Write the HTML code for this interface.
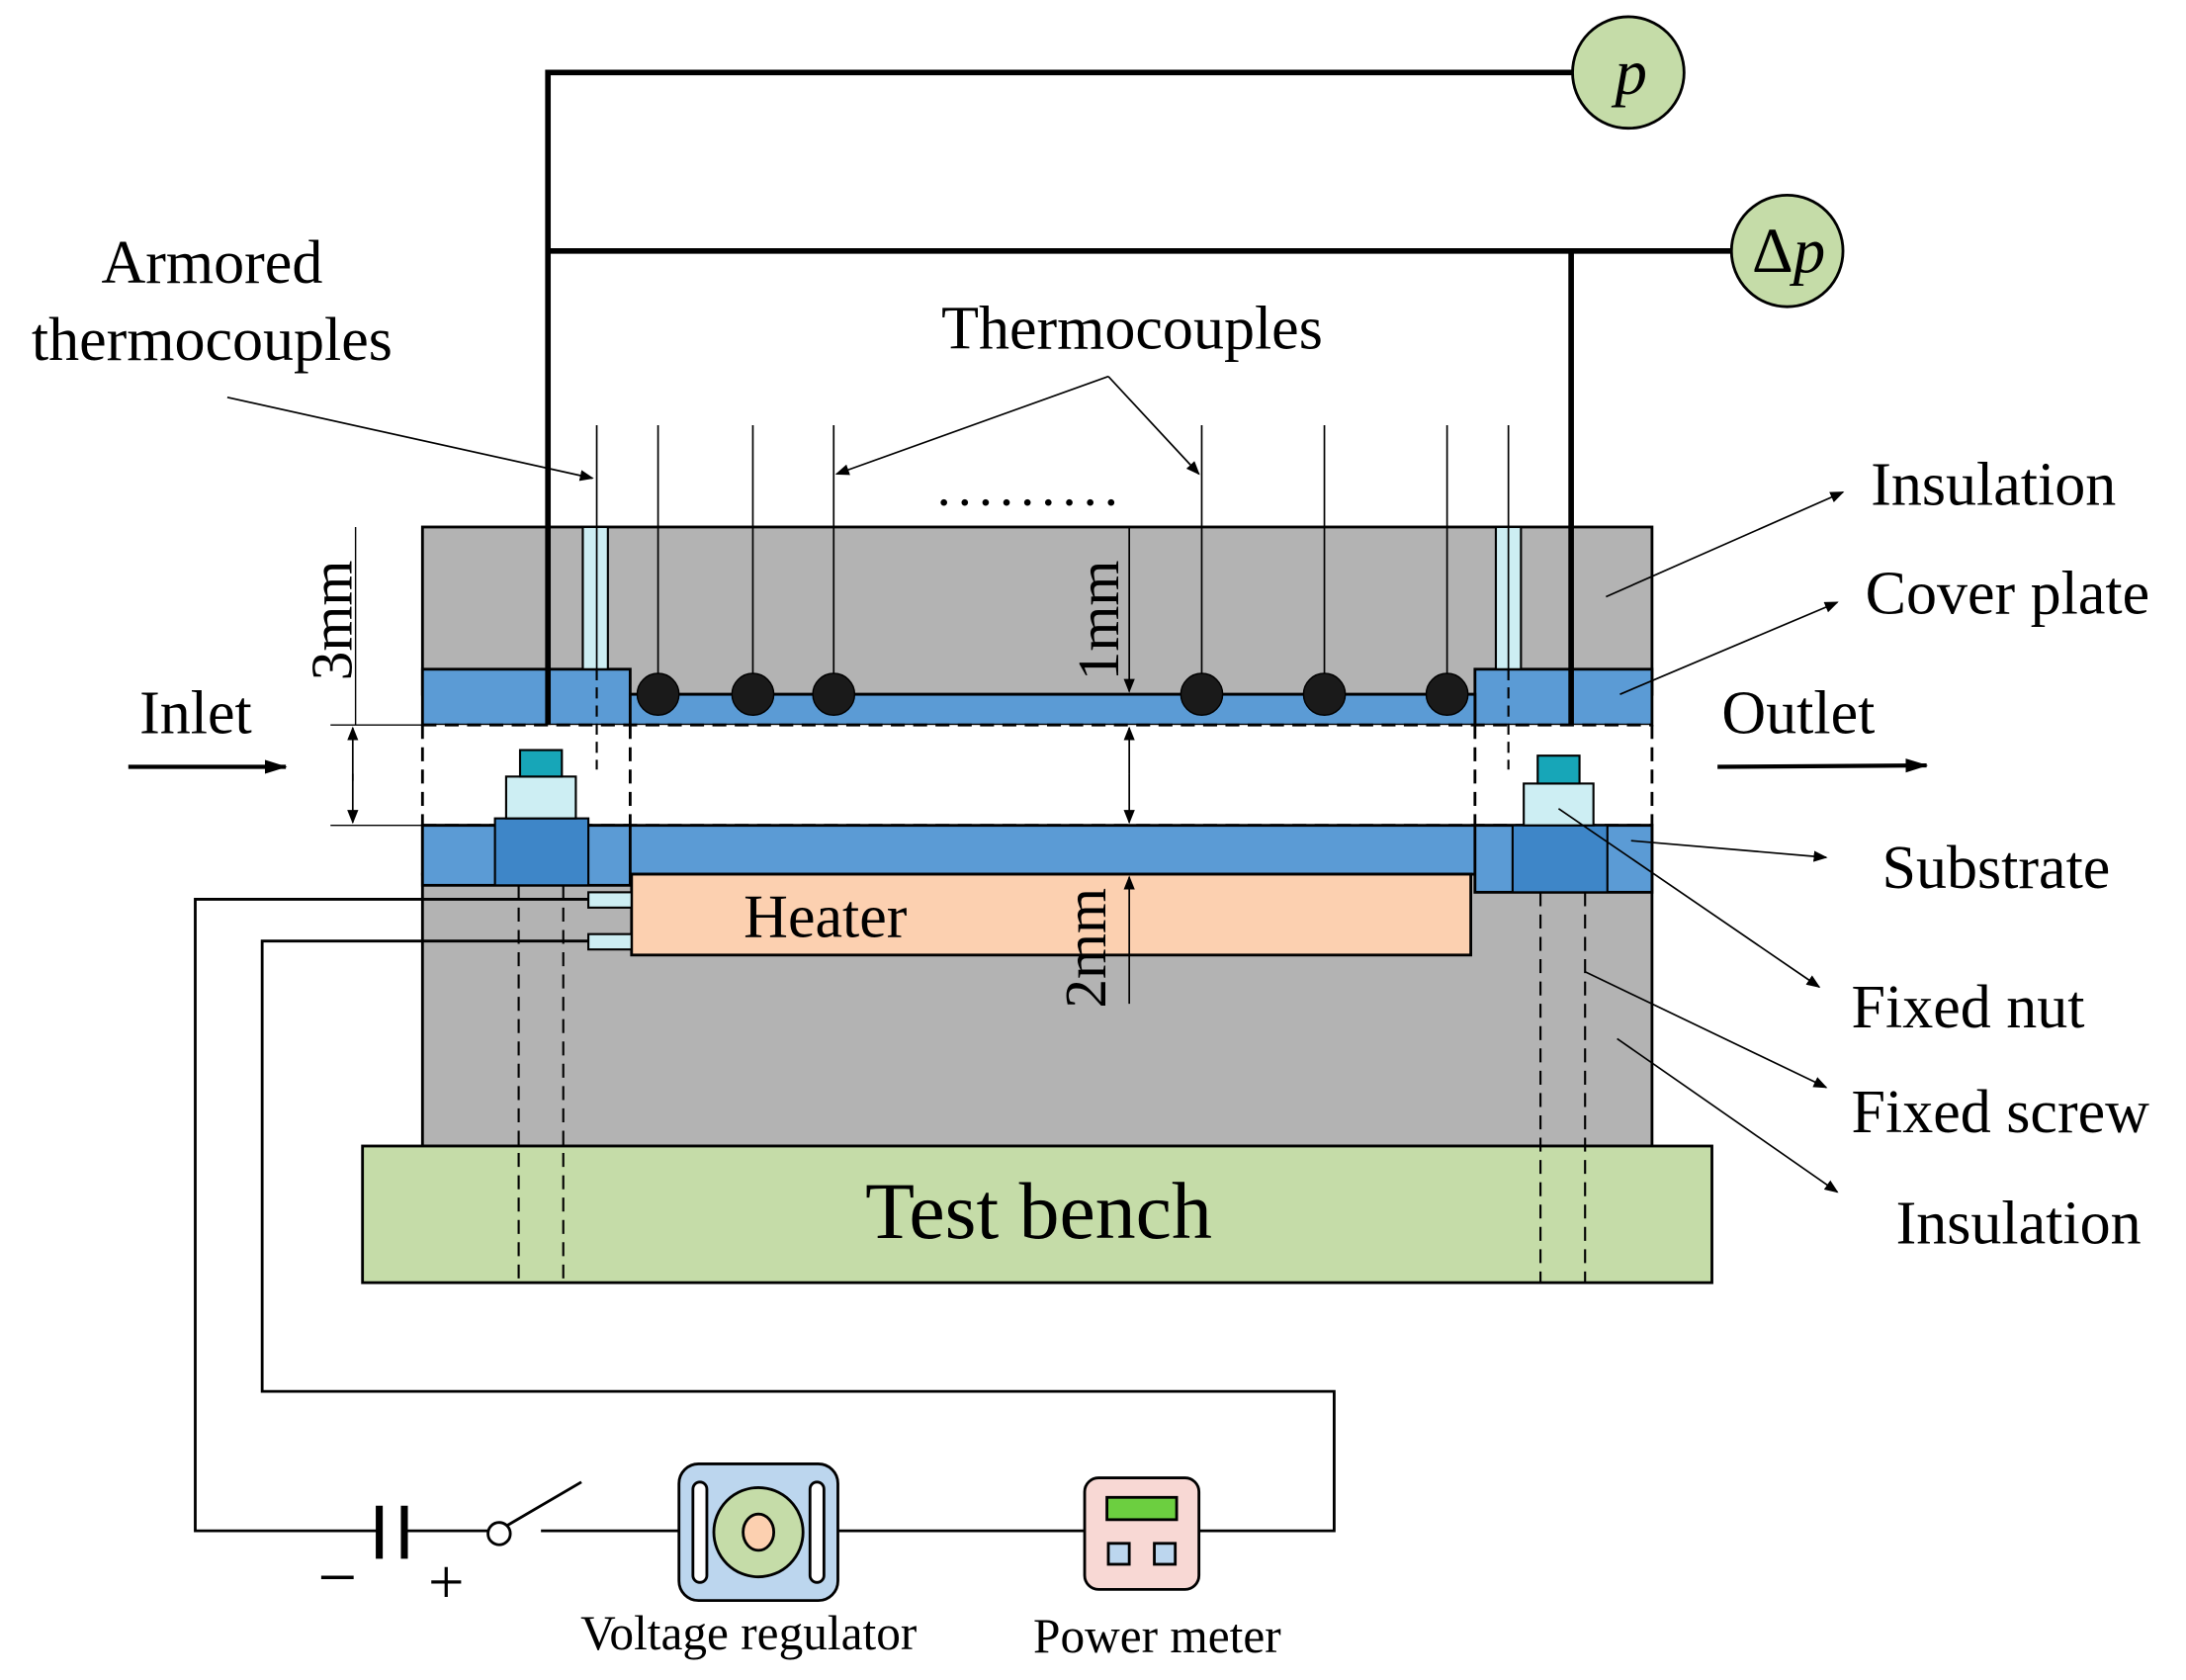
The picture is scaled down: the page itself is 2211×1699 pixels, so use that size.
<!DOCTYPE html>
<html><head><meta charset="utf-8"><style>html,body{margin:0;padding:0;background:#fff}svg{display:block}text{font-family:"Liberation Serif",serif;fill:#000}</style></head><body>
<svg width="2211" height="1699" viewBox="0 0 1568 1205" xmlns="http://www.w3.org/2000/svg">
<defs><marker id="a" markerWidth="10" markerHeight="8" refX="9" refY="4" orient="auto" markerUnits="userSpaceOnUse"><path d="M0,0 L10,4 L0,8 Z" fill="#000"/></marker>
<marker id="b" markerWidth="16" markerHeight="10" refX="15" refY="5" orient="auto" markerUnits="userSpaceOnUse"><path d="M0,0 L16,5 L0,10 Z" fill="#000"/></marker></defs>
<rect x="303" y="378" width="882" height="120" fill="#b3b3b3" stroke="#000" stroke-width="2"/>
<rect x="303" y="627" width="882" height="195" fill="#b3b3b3" stroke="#000" stroke-width="2"/>
<rect x="303" y="480" width="149" height="40" fill="#5b9bd5" stroke="#000" stroke-width="2"/>
<rect x="1058" y="480" width="127" height="40" fill="#5b9bd5" stroke="#000" stroke-width="2"/>
<rect x="452" y="498" width="606" height="22" fill="#5b9bd5" stroke="#000" stroke-width="2"/>
<rect x="303" y="520" width="882" height="72" fill="#fff"/>
<path d="M303,520H1185M303,592H1185M303,520V592M1185,520V592M452,520V592M1058,520V592" stroke="#000" stroke-width="2" stroke-dasharray="10,6" fill="none"/>
<rect x="303" y="592" width="882" height="35" fill="#5b9bd5" stroke="#000" stroke-width="2"/>
<rect x="303" y="592" width="149" height="43" fill="#5b9bd5" stroke="#000" stroke-width="2"/>
<rect x="1058" y="592" width="127" height="48" fill="#5b9bd5" stroke="#000" stroke-width="2"/>
<rect x="453" y="627" width="602" height="58" fill="#fcd0b0" stroke="#000" stroke-width="2"/>
<text x="592" y="672" font-size="44" text-anchor="middle">Heater</text>
<rect x="422" y="640" width="31" height="11" fill="#cdeef3" stroke="#000" stroke-width="1.5"/>
<rect x="422" y="670" width="31" height="11" fill="#cdeef3" stroke="#000" stroke-width="1.5"/>
<rect x="260" y="822" width="968" height="98" fill="#c5dca8" stroke="#000" stroke-width="2"/>
<text x="745" y="888" font-size="58" text-anchor="middle">Test bench</text>
<rect x="355" y="587" width="67" height="48" fill="#3e86c8" stroke="#000" stroke-width="1.5"/>
<rect x="363" y="557" width="50" height="30" fill="#cdeef3" stroke="#000" stroke-width="1.5"/>
<rect x="373" y="538" width="30" height="19" fill="#17a6b8" stroke="#000" stroke-width="1.5"/>
<rect x="1085" y="592" width="68" height="48" fill="#3e86c8" stroke="#000" stroke-width="1.5"/>
<rect x="1093" y="562" width="50" height="30" fill="#cdeef3" stroke="#000" stroke-width="1.5"/>
<rect x="1103" y="542" width="30" height="20" fill="#17a6b8" stroke="#000" stroke-width="1.5"/>
<path d="M372,635V920M404,635V920M1105,640V920M1137,640V920" stroke="#000" stroke-width="1.5" stroke-dasharray="10,6"/>
<rect x="418" y="378" width="18" height="102" fill="#cdeef3" stroke="#000" stroke-width="1.5"/>
<rect x="1073" y="378" width="18" height="102" fill="#cdeef3" stroke="#000" stroke-width="1.5"/>
<path d="M428,480V552M1082,480V552" stroke="#000" stroke-width="1.5" stroke-dasharray="8,5"/>
<path d="M428,305V480M1082,305V480" stroke="#000" stroke-width="1.2"/>
<g stroke="#000" stroke-width="1.2"><path d="M472,305V498M540,305V498M598,305V498M862,305V498M950,305V498M1038,305V498"/></g>
<g fill="#1a1a1a" stroke="#000"><circle cx="472" cy="498" r="15"/><circle cx="540" cy="498" r="15"/><circle cx="598" cy="498" r="15"/><circle cx="862" cy="498" r="15"/><circle cx="950" cy="498" r="15"/><circle cx="1038" cy="498" r="15"/></g>
<text x="672" y="362" font-size="40" letter-spacing="5">.........</text>
<path d="M393,520V52H1128M393,180H1243M1127,180V520" stroke="#000" stroke-width="4" fill="none"/>
<circle cx="1168" cy="52" r="40" fill="#c5dca8" stroke="#000" stroke-width="2"/>
<text x="1170" y="67" font-size="46" font-style="italic" text-anchor="middle">p</text>
<circle cx="1282" cy="180" r="40" fill="#c5dca8" stroke="#000" stroke-width="2"/>
<text x="1283" y="195" font-size="46" text-anchor="middle">Δ<tspan font-style="italic">p</tspan></text>
<text x="152" y="203" font-size="44" text-anchor="middle">Armored</text>
<text x="152" y="258" font-size="44" text-anchor="middle">thermocouples</text>
<line x1="163" y1="285" x2="425" y2="343" stroke="#000" stroke-width="1.2" marker-end="url(#a)"/>
<text x="812" y="250" font-size="44" text-anchor="middle">Thermocouples</text>
<line x1="795" y1="270" x2="600" y2="340" stroke="#000" stroke-width="1.2" marker-end="url(#a)"/>
<line x1="795" y1="270" x2="860" y2="340" stroke="#000" stroke-width="1.2" marker-end="url(#a)"/>
<text x="1342" y="362" font-size="44">Insulation</text>
<line x1="1152" y1="428" x2="1322" y2="353" stroke="#000" stroke-width="1.2" marker-end="url(#a)"/>
<text x="1338" y="440" font-size="44">Cover plate</text>
<line x1="1162" y1="498" x2="1318" y2="432" stroke="#000" stroke-width="1.2" marker-end="url(#a)"/>
<text x="1235" y="526" font-size="44">Outlet</text>
<line x1="1232" y1="550" x2="1382" y2="549" stroke="#000" stroke-width="3" marker-end="url(#b)"/>
<text x="100" y="526" font-size="44">Inlet</text>
<line x1="92" y1="550" x2="205" y2="550" stroke="#000" stroke-width="3" marker-end="url(#b)"/>
<text x="1350" y="637" font-size="44">Substrate</text>
<line x1="1170" y1="603" x2="1310" y2="615" stroke="#000" stroke-width="1.2" marker-end="url(#a)"/>
<text x="1328" y="737" font-size="44">Fixed nut</text>
<line x1="1118" y1="580" x2="1305" y2="708" stroke="#000" stroke-width="1.2" marker-end="url(#a)"/>
<text x="1328" y="812" font-size="44">Fixed screw</text>
<line x1="1137" y1="697" x2="1310" y2="780" stroke="#000" stroke-width="1.2" marker-end="url(#a)"/>
<text x="1360" y="892" font-size="44">Insulation</text>
<line x1="1160" y1="745" x2="1318" y2="855" stroke="#000" stroke-width="1.2" marker-end="url(#a)"/>
<path d="M237,520H303M237,592H303M255,378V520" stroke="#000" stroke-width="1"/>
<line x1="253" y1="560" x2="253" y2="522" stroke="#000" stroke-width="1.2" marker-end="url(#a)"/>
<line x1="253" y1="555" x2="253" y2="590" stroke="#000" stroke-width="1.2" marker-end="url(#a)"/>
<text transform="translate(252,445) rotate(-90)" font-size="42" text-anchor="middle">3mm</text>
<line x1="810" y1="378" x2="810" y2="496" stroke="#000" stroke-width="1.2" marker-end="url(#a)"/>
<line x1="810" y1="555" x2="810" y2="522" stroke="#000" stroke-width="1.2" marker-end="url(#a)"/>
<line x1="810" y1="555" x2="810" y2="590" stroke="#000" stroke-width="1.2" marker-end="url(#a)"/>
<line x1="810" y1="720" x2="810" y2="629" stroke="#000" stroke-width="1.2" marker-end="url(#a)"/>
<text transform="translate(802,445) rotate(-90)" font-size="42" text-anchor="middle">1mm</text>
<text transform="translate(793,680) rotate(-90)" font-size="42" text-anchor="middle">2mm</text>
<path d="M422,645H140V1098H272M290,1098H350M388,1098H487M601,1098H778M860,1098H957V998H188V675H422" stroke="#000" stroke-width="2" fill="none"/>
<path d="M272,1080V1118M290,1080V1118" stroke="#000" stroke-width="5"/>
<text x="242" y="1148" font-size="50" text-anchor="middle">−</text>
<text x="320" y="1150" font-size="46" text-anchor="middle">+</text>
<circle cx="358" cy="1100" r="8" fill="#fff" stroke="#000" stroke-width="2"/>
<line x1="364" y1="1094" x2="417" y2="1063" stroke="#000" stroke-width="2"/>
<rect x="487" y="1050" width="114" height="98" rx="14" fill="#bcd6ee" stroke="#000" stroke-width="2"/>
<rect x="497" y="1063" width="10" height="72" rx="5" fill="#fff" stroke="#000" stroke-width="2"/>
<rect x="581" y="1063" width="10" height="72" rx="5" fill="#fff" stroke="#000" stroke-width="2"/>
<circle cx="544" cy="1099" r="32" fill="#c5dca8" stroke="#000" stroke-width="2"/>
<ellipse cx="544" cy="1099" rx="11" ry="13" fill="#fcd0b0" stroke="#000" stroke-width="2"/>
<text x="537" y="1183" font-size="35" text-anchor="middle">Voltage regulator</text>
<rect x="778" y="1060" width="82" height="80" rx="10" fill="#f8d8d4" stroke="#000" stroke-width="2"/>
<rect x="794" y="1074" width="50" height="16" fill="#6ccf40" stroke="#000" stroke-width="2"/>
<rect x="795" y="1107" width="15" height="15" fill="#bcd6ee" stroke="#000" stroke-width="2"/>
<rect x="828" y="1107" width="15" height="15" fill="#bcd6ee" stroke="#000" stroke-width="2"/>
<text x="830" y="1185" font-size="35" text-anchor="middle">Power meter</text>
</svg>
</body></html>
